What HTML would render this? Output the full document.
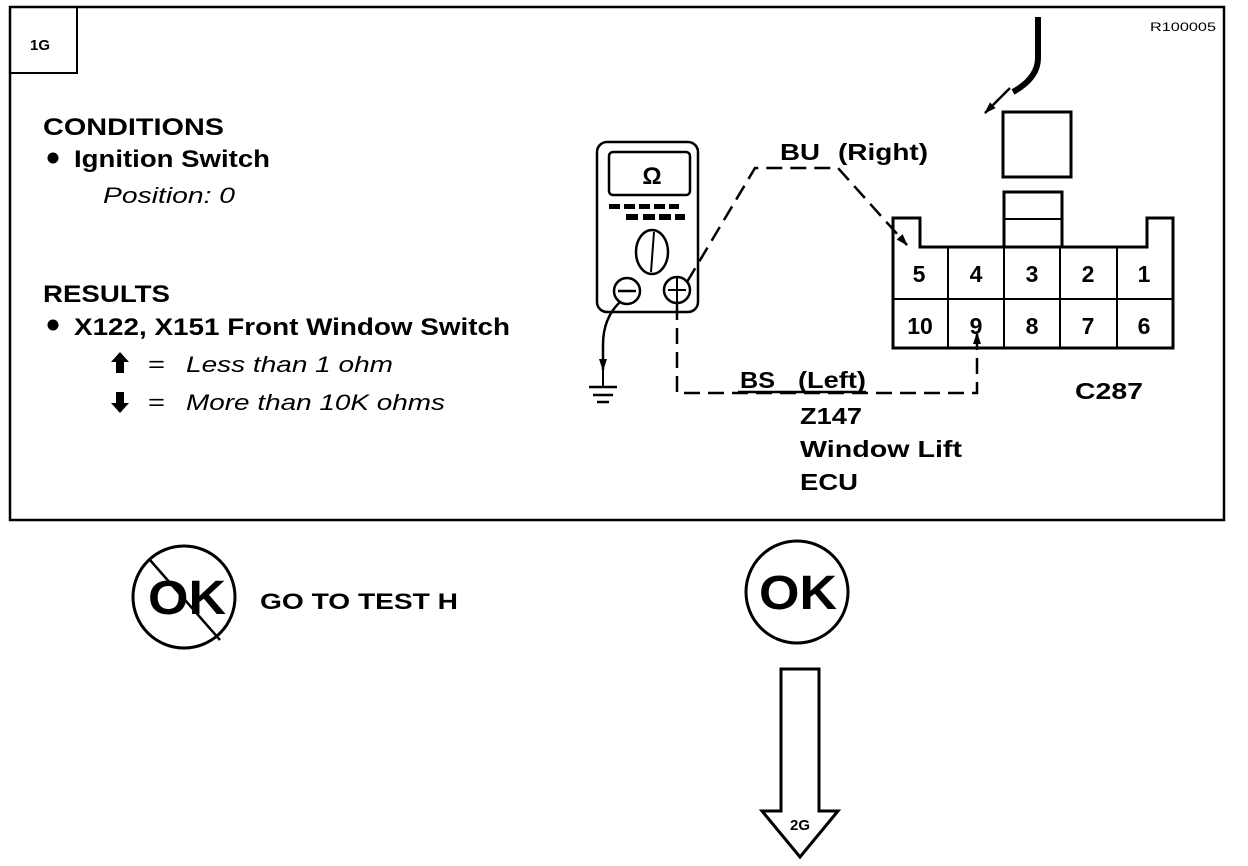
<!DOCTYPE html>
<html><head><meta charset="utf-8"><style>
body{margin:0;background:#fff;}
svg{display:block;}
text{font-family:"Liberation Sans",Arial,sans-serif;fill:#000;}
.b{font-weight:bold;}
</style></head><body>
<svg width="1248" height="866" viewBox="0 0 1248 866">
<defs>
<marker id="ah" markerWidth="12" markerHeight="10" refX="11" refY="5" orient="auto" markerUnits="userSpaceOnUse"><path d="M0,1 L12,5 L0,9 Z" fill="#000"/></marker>
</defs>
<rect x="10" y="7" width="1214" height="513" fill="none" stroke="#000" stroke-width="2.5"/>
<rect x="10" y="7" width="67" height="66" fill="none" stroke="#000" stroke-width="2"/>
<text x="30" y="50" class="b" font-size="15">1G</text>
<text x="1150" y="31" font-size="12" textLength="66" lengthAdjust="spacingAndGlyphs">R100005</text>

<text x="43" y="135" class="b" font-size="24" textLength="181" lengthAdjust="spacingAndGlyphs">CONDITIONS</text>
<circle cx="53" cy="158" r="5.5"/>
<text x="74" y="167" class="b" font-size="24" textLength="196" lengthAdjust="spacingAndGlyphs">Ignition Switch</text>
<text x="103" y="203" font-size="22" font-style="italic" textLength="132" lengthAdjust="spacingAndGlyphs">Position: 0</text>

<text x="43" y="302" class="b" font-size="24" textLength="127" lengthAdjust="spacingAndGlyphs">RESULTS</text>
<circle cx="53" cy="325" r="5.5"/>
<text x="74" y="335" class="b" font-size="24" textLength="436" lengthAdjust="spacingAndGlyphs">X122, X151 Front Window Switch</text>
<path d="M111,362 L120,352 L129,362 L124,362 L124,373 L116,373 L116,362 Z" fill="#000"/>
<text x="148" y="372" font-size="22" textLength="17" lengthAdjust="spacingAndGlyphs">=</text>
<text x="186" y="372" font-size="22" font-style="italic" textLength="207" lengthAdjust="spacingAndGlyphs">Less than 1 ohm</text>
<path d="M116,392 L124,392 L124,403 L129,403 L120,413 L111,403 L116,403 Z" fill="#000"/>
<text x="148" y="410" font-size="22" textLength="17" lengthAdjust="spacingAndGlyphs">=</text>
<text x="186" y="410" font-size="22" font-style="italic" textLength="259" lengthAdjust="spacingAndGlyphs">More than 10K ohms</text>

<!-- meter -->
<rect x="597" y="142" width="101" height="170" rx="10" fill="none" stroke="#000" stroke-width="2.5"/>
<rect x="609" y="152" width="81" height="43" rx="4" fill="none" stroke="#000" stroke-width="2.5"/>
<text x="652" y="184" font-size="24" text-anchor="middle" class="b">Ω</text>
<g fill="#000">
<rect x="609" y="204" width="11" height="5"/><rect x="624" y="204" width="11" height="5"/><rect x="639" y="204" width="11" height="5"/><rect x="654" y="204" width="11" height="5"/><rect x="669" y="204" width="10" height="5"/>
<rect x="626" y="214" width="12" height="6"/><rect x="643" y="214" width="12" height="6"/><rect x="659" y="214" width="12" height="6"/><rect x="675" y="214" width="10" height="6"/>
</g>
<ellipse cx="652" cy="252" rx="16" ry="22" fill="none" stroke="#000" stroke-width="2.5"/>
<line x1="654" y1="232" x2="651" y2="272" stroke="#000" stroke-width="2"/>
<circle cx="627" cy="291" r="13" fill="#fff" stroke="#000" stroke-width="2.5"/>
<line x1="618" y1="291" x2="636" y2="291" stroke="#000" stroke-width="2.5"/>
<circle cx="677" cy="290" r="13" fill="#fff" stroke="#000" stroke-width="2.5"/>
<line x1="668" y1="290" x2="686" y2="290" stroke="#000" stroke-width="2"/>
<line x1="677" y1="277" x2="677" y2="303" stroke="#000" stroke-width="2"/>
<path d="M620,302 Q603,318 603,345 L603,370" fill="none" stroke="#000" stroke-width="2.5" marker-end="url(#ah)"/>
<line x1="603" y1="370" x2="603" y2="387" stroke="#000" stroke-width="2"/>
<line x1="589" y1="387" x2="617" y2="387" stroke="#000" stroke-width="2.5"/>
<line x1="593" y1="395" x2="613" y2="395" stroke="#000" stroke-width="2.5"/>
<line x1="597" y1="402" x2="609" y2="402" stroke="#000" stroke-width="2.5"/>

<path d="M687,282 L755,168 L838,168 L907,245" fill="none" stroke="#000" stroke-width="2.5" stroke-dasharray="16,8" marker-end="url(#ah)"/>
<text x="780" y="160" class="b" font-size="23" textLength="40" lengthAdjust="spacingAndGlyphs">BU</text>
<text x="838" y="160" class="b" font-size="23" textLength="90" lengthAdjust="spacingAndGlyphs">(Right)</text>
<path d="M677,304 L677,393 L977,393 L977,333" fill="none" stroke="#000" stroke-width="2.5" stroke-dasharray="16,8" marker-end="url(#ah)"/>
<text x="740" y="388" class="b" font-size="23" textLength="35" lengthAdjust="spacingAndGlyphs">BS</text>
<text x="798" y="388" class="b" font-size="23" textLength="68" lengthAdjust="spacingAndGlyphs">(Left)</text>
<line x1="738" y1="392" x2="866" y2="392" stroke="#000" stroke-width="2.5"/>
<text x="800" y="424" class="b" font-size="23" textLength="62" lengthAdjust="spacingAndGlyphs">Z147</text>
<text x="800" y="457" class="b" font-size="23" textLength="162" lengthAdjust="spacingAndGlyphs">Window Lift</text>
<text x="800" y="490" class="b" font-size="23" textLength="58" lengthAdjust="spacingAndGlyphs">ECU</text>

<path d="M893,218 L920,218 L920,247 L1147,247 L1147,218 L1173,218 L1173,348 L893,348 Z" fill="none" stroke="#000" stroke-width="3"/>
<rect x="1004" y="192" width="58" height="55" fill="none" stroke="#000" stroke-width="3"/>
<line x1="1004" y1="219" x2="1062" y2="219" stroke="#000" stroke-width="2"/>
<line x1="893" y1="299" x2="1173" y2="299" stroke="#000" stroke-width="2"/>
<g stroke="#000" stroke-width="2">
<line x1="948" y1="247" x2="948" y2="348"/><line x1="1004" y1="247" x2="1004" y2="348"/><line x1="1060" y1="247" x2="1060" y2="348"/><line x1="1117" y1="247" x2="1117" y2="348"/>
</g>
<g class="b" font-size="23" text-anchor="middle">
<text x="919" y="282">5</text><text x="976" y="282">4</text><text x="1032" y="282">3</text><text x="1088" y="282">2</text><text x="1144" y="282">1</text>
<text x="920" y="334">10</text><text x="976" y="334">9</text><text x="1032" y="334">8</text><text x="1088" y="334">7</text><text x="1144" y="334">6</text>
</g>
<rect x="1003" y="112" width="68" height="65" fill="none" stroke="#000" stroke-width="3"/>
<path d="M1038,17 L1038,58 Q1038,78 1013,92" fill="none" stroke="#000" stroke-width="6"/>
<line x1="1010" y1="88" x2="985" y2="113" stroke="#000" stroke-width="2.5" marker-end="url(#ah)"/>
<text x="1075" y="399" class="b" font-size="23" textLength="68" lengthAdjust="spacingAndGlyphs">C287</text>

<circle cx="184" cy="597" r="51" fill="none" stroke="#000" stroke-width="3"/>
<text x="148" y="614" class="b" font-size="48" textLength="78" lengthAdjust="spacingAndGlyphs">OK</text>
<line x1="150" y1="560" x2="220" y2="640" stroke="#000" stroke-width="2.5"/>
<text x="260" y="609" class="b" font-size="22" textLength="198" lengthAdjust="spacingAndGlyphs">GO TO TEST H</text>
<circle cx="797" cy="592" r="51" fill="none" stroke="#000" stroke-width="3"/>
<text x="759" y="609" class="b" font-size="48" textLength="78" lengthAdjust="spacingAndGlyphs">OK</text>
<path d="M781,669 L819,669 L819,811 L838,811 L800,857 L762,811 L781,811 Z" fill="none" stroke="#000" stroke-width="3"/>
<text x="800" y="830" class="b" font-size="15" text-anchor="middle">2G</text>
</svg>
</body></html>
